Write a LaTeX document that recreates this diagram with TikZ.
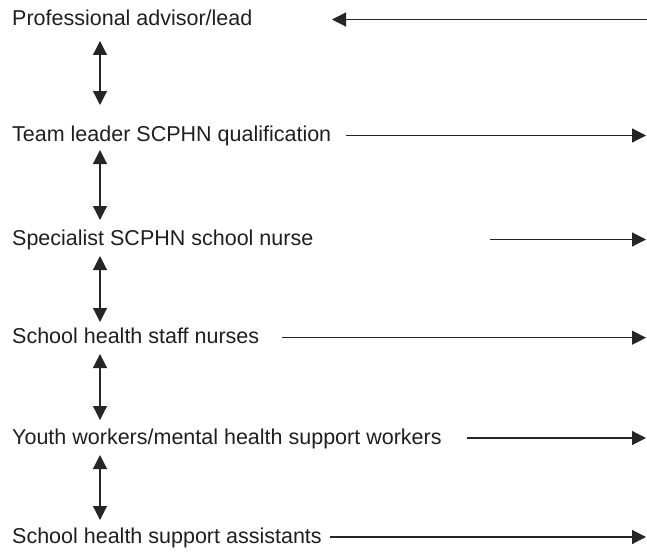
\documentclass[tikz,border=0pt]{standalone}
\usepackage{fontspec}
\setmainfont{Liberation Sans}
\usetikzlibrary{arrows.meta}
\tikzset{
  lbl/.style={anchor=base west, inner sep=0pt, text=black!88, font=\fontsize{21.5}{26}\selectfont},
  conn/.style={line width=1.2pt, draw=black!85, -{Triangle[length=14pt,width=14pt]}},
  dbl/.style={line width=1.2pt, draw=black!85, {Triangle[length=14pt,width=14pt]}-{Triangle[length=14pt,width=14pt]}}
}
\begin{document}
\begin{tikzpicture}[x=1pt,y=-1pt]
\useasboundingbox (0,0) rectangle (647,551);
% labels
\node[lbl] (t1) at (12,25.5) {Professional advisor/lead};
\node[lbl] (t2) at (12,141.5) {Team leader SCPHN qualification};
\node[lbl] (t3) at (12,245.5) {Specialist SCPHN school nurse};
\node[lbl] (t4) at (12,343.7) {School health staff nurses};
\node[lbl] (t5) at (12,444) {Youth workers/mental health support workers};
\node[lbl] (t6) at (12,543) {School health support assistants};
% horizontal connector ends
\coordinate (h1a) at (647,19.5);  \coordinate (h1b) at (332,19.5);
\coordinate (h2a) at (346,135.5); \coordinate (h2b) at (646,135.5);
\coordinate (h3a) at (490,239.5); \coordinate (h3b) at (646,239.5);
\coordinate (h4a) at (282,337.7); \coordinate (h4b) at (646,337.7);
\coordinate (h5a) at (467,438);   \coordinate (h5b) at (646,438);
\coordinate (h6a) at (330,537);   \coordinate (h6b) at (646,537);
\draw[conn] (h1a) -- (h1b);
\draw[conn] (h2a) -- (h2b);
\draw[conn] (h3a) -- (h3b);
\draw[conn] (h4a) -- (h4b);
\draw[conn] (h5a) -- (h5b);
\draw[conn] (h6a) -- (h6b);
% vertical double arrows
\coordinate (v1a) at (100,41);  \coordinate (v1b) at (100,105);
\coordinate (v2a) at (100,150); \coordinate (v2b) at (100,220);
\coordinate (v3a) at (100,256); \coordinate (v3b) at (100,322);
\coordinate (v4a) at (100,354); \coordinate (v4b) at (100,420);
\coordinate (v5a) at (100,455); \coordinate (v5b) at (100,520);
\draw[dbl] (v1a) -- (v1b);
\draw[dbl] (v2a) -- (v2b);
\draw[dbl] (v3a) -- (v3b);
\draw[dbl] (v4a) -- (v4b);
\draw[dbl] (v5a) -- (v5b);
\end{tikzpicture}
\end{document}
